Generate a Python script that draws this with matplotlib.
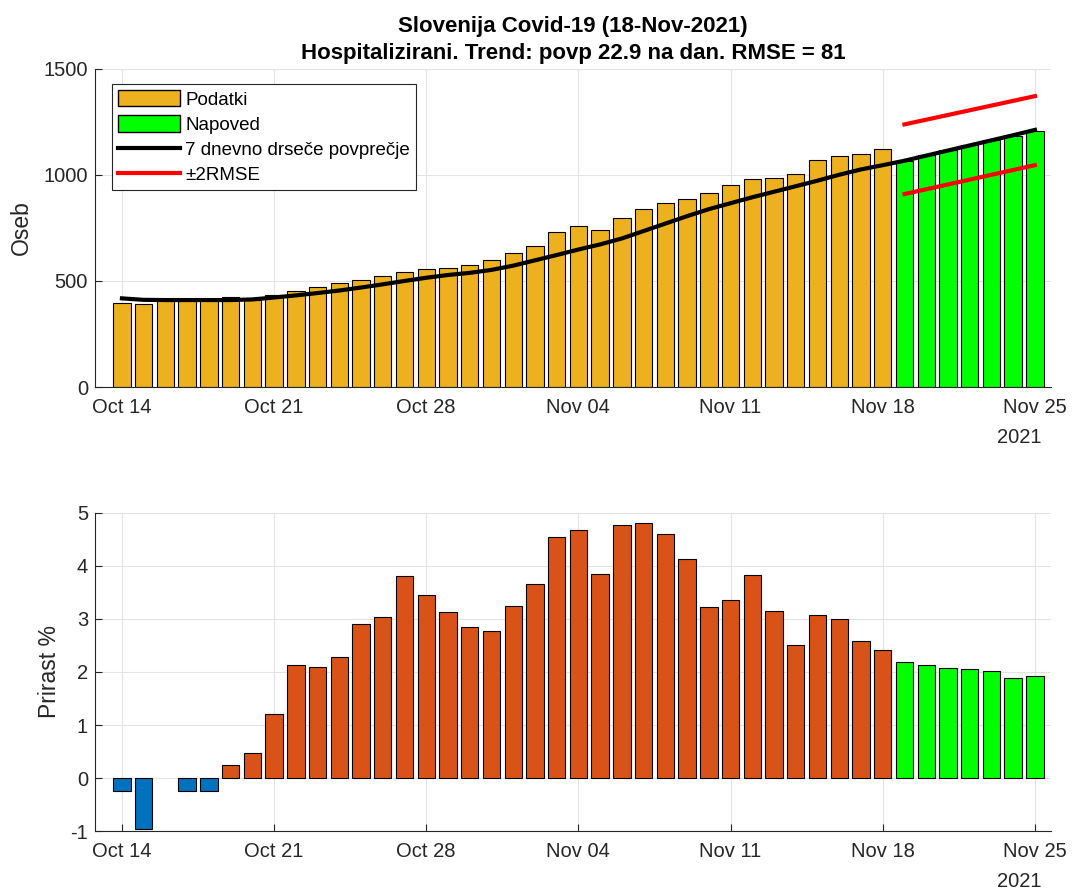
import numpy as np
import matplotlib
matplotlib.use("Agg")
import matplotlib.pyplot as plt
import matplotlib.dates as mdates
from matplotlib.patches import Patch
from matplotlib.lines import Line2D
import datetime as dt

plt.rcParams['font.family'] = ['Liberation Sans', 'DejaVu Sans']
plt.rcParams['axes.unicode_minus'] = False

# podatki: hospitalizirani od 14. okt do 18. nov
data_start = dt.date(2021, 10, 14)
hosp = [397, 391, 410, 410, 410, 425, 412, 433, 453, 472, 491, 505, 522, 542,
        555, 561, 575, 598, 631, 664, 730, 758, 742, 795, 838, 869, 884, 916,
        950, 978, 986, 1005, 1070, 1089, 1098, 1122]

# napoved 19. nov - 25. nov
fc_start = dt.date(2021, 11, 19)
forecast = [1067, 1094, 1117, 1141, 1163, 1184, 1206]
upper = [1237, 1370]
lower = [909, 1045]

# 7 dnevno drsece povprecje (od 14. okt do 25. nov)
ma7 = [418, 411, 410, 410, 410, 410, 413, 422, 432, 443, 455, 469, 484, 500,
       515, 528, 538, 552, 572, 597, 622, 648, 672, 700, 735, 770, 805, 838,
       866, 894, 920, 946, 972, 1000, 1025, 1045, 1066, 1090, 1114, 1138,
       1162, 1186, 1211]

# prirast % (14. okt - 18. nov) in napoved
growth = [-0.25, -0.96, 0.0, -0.25, -0.25, 0.24, 0.48, 1.20, 2.14, 2.10, 2.29,
          2.91, 3.04, 3.80, 3.45, 3.13, 2.85, 2.77, 3.25, 3.66, 4.55, 4.68,
          3.85, 4.76, 4.81, 4.60, 4.13, 3.23, 3.36, 3.83, 3.14, 2.50, 3.08,
          2.99, 2.59, 2.42]
growth_fc = [2.18, 2.14, 2.08, 2.05, 2.01, 1.88, 1.93]

tick_dates = ["2021-10-14", "2021-10-21", "2021-10-28", "2021-11-04",
              "2021-11-11", "2021-11-18", "2021-11-25"]

gold = '#EDB120'
green = '#00FF00'
orange = '#D95319'
blue = '#0072BD'
txt = '#262626'

d_data = [data_start + dt.timedelta(days=i) for i in range(len(hosp))]
d_fc = [fc_start + dt.timedelta(days=i) for i in range(len(forecast))]
d_ma = [data_start + dt.timedelta(days=i) for i in range(len(ma7))]
d_band = [d_fc[0], d_fc[-1]]

fig = plt.figure(figsize=(10.73, 8.90), dpi=100)
ax1 = fig.add_axes([0.0885, 0.565, 0.891, 0.358])
ax2 = fig.add_axes([0.0885, 0.066, 0.891, 0.358])

xmin = mdates.date2num(data_start) - 1.24
xmax = mdates.date2num(dt.date(2021, 11, 25)) + 0.74
ticks = [mdates.datestr2num(t) for t in tick_dates]

ax1.bar(d_data, hosp, width=0.8, color=gold, edgecolor='black', linewidth=0.8, zorder=2)
ax1.bar(d_fc, forecast, width=0.8, color=green, edgecolor='black', linewidth=0.8, zorder=2)
ax1.plot(d_ma, ma7, color='black', linewidth=3, zorder=3)
ax1.plot(d_band, upper, color='red', linewidth=3, zorder=3)
ax1.plot(d_band, lower, color='red', linewidth=3, zorder=3)
ax1.set_ylim(0, 1500)
ax1.set_yticks([0, 500, 1000, 1500])
ax1.set_ylabel('Oseb', fontsize=16.5, color=txt)
ax1.yaxis.set_label_coords(-0.065, 0.5)
ax1.set_title('Slovenija Covid-19 (18-Nov-2021)\nHospitalizirani. Trend: povp 22.9 na dan. RMSE = 81',
              fontsize=16, fontweight='bold', pad=7, linespacing=1.35)

handles = [Patch(facecolor=gold, edgecolor='black'),
           Patch(facecolor=green, edgecolor='black'),
           Line2D([], [], color='black', linewidth=3),
           Line2D([], [], color='red', linewidth=3)]
labels = ['Podatki', 'Napoved', '7 dnevno drseče povprečje', '±2RMSE']
leg = ax1.legend(handles, labels, loc='upper left', bbox_to_anchor=(0.018, 0.95),
                 fontsize=13.5, handlelength=3.3, handleheight=0.95, handletextpad=0.3,
                 labelspacing=0.36, borderpad=0.3, fancybox=False, framealpha=1,
                 edgecolor=txt, borderaxespad=0)
leg.get_frame().set_linewidth(0.8)

# prirast: negativni modro, pozitivni oranzno
g = np.array(growth)
cols = [blue if v < 0 else orange for v in g]
lws = [0 if v == 0 else 0.8 for v in g]
ax2.bar(d_data, growth, width=0.8, color=cols, edgecolor='black', linewidth=lws, zorder=2)
ax2.bar(d_fc, growth_fc, width=0.8, color=green, edgecolor='black', linewidth=0.8, zorder=2)
ax2.set_ylim(-1, 5)
ax2.set_yticks(range(-1, 6))
ax2.set_ylabel('Prirast %', fontsize=16.5, color=txt)
ax2.yaxis.set_label_coords(-0.035, 0.5)

for ax in (ax1, ax2):
    ax.set_xlim(xmin, xmax)
    ax.set_xticks(ticks)
    ax.xaxis.set_major_formatter(mdates.DateFormatter('%b %d'))
    ax.grid(True, color='#E3E3E3', linewidth=0.8, zorder=0)
    ax.set_axisbelow(True)
    ax.spines['top'].set_visible(False)
    ax.spines['right'].set_visible(False)
    for s in ('left', 'bottom'):
        ax.spines[s].set_color(txt)
        ax.spines[s].set_linewidth(0.8)
    ax.tick_params(direction='in', length=5, width=0.8, labelsize=14.5, colors=txt)
    ax.tick_params(axis='x', pad=8)
    ax.tick_params(axis='y', pad=5)
    ax.annotate('2021', xy=(mdates.datestr2num("2021-11-25"), 0),
                xycoords=('data', 'axes fraction'), xytext=(-11, -36),
                textcoords='offset points', ha='center', va='center',
                fontsize=14.5, color=txt)

fig.savefig('out.png', dpi=100)
